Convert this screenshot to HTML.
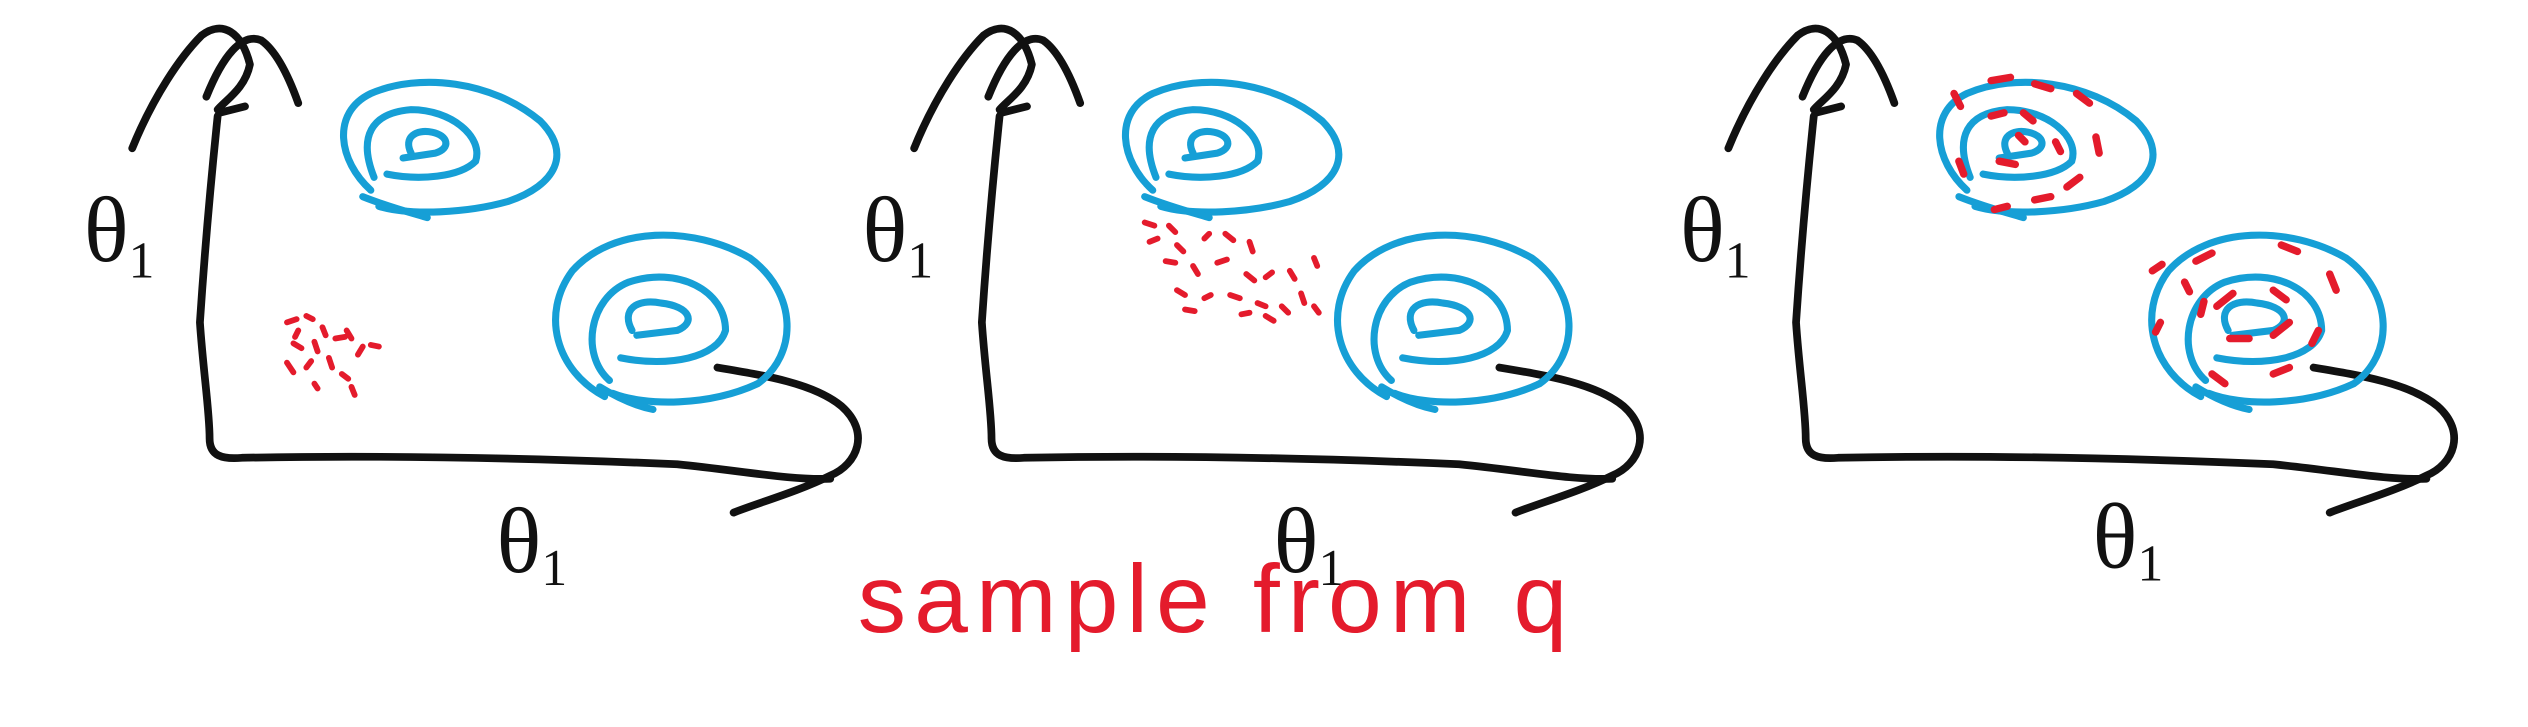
<!DOCTYPE html>
<html><head><meta charset="utf-8"><style>
html,body{margin:0;padding:0;background:#fff;width:2528px;height:727px;overflow:hidden}
svg{display:block}
.k{fill:none;stroke:#111;stroke-width:4.8;stroke-linecap:round;stroke-linejoin:round}
.b{fill:none;stroke:#169fd6;stroke-width:4.4;stroke-linecap:round}
.r{fill:none;stroke:#e41b2c;stroke-width:3.6;stroke-linecap:round}
.t{font-family:"Liberation Serif",serif;fill:#111}
</style></head><body>
<svg width="2528" height="727" viewBox="0 0 1568 451" preserveAspectRatio="none">
<defs>
<g id="axes">
<path class="k" d="M82,92 C95,60 112,35 125,22 C138,12 150,20 155,40 C152,55 140,62 135,68"/>
<path class="k" d="M128,60 C138,35 150,20 162,25 C172,32 180,50 185,64"/>
<path class="k" d="M136,70 L152,66"/>
<path class="k" d="M135,72 C130,120 126,170 124,200 C126,230 130,255 130,272 C130,283 138,285 150,284 C250,282 350,285 420,288 C460,292 490,298 515,297"/>
<path class="k" d="M445,228 C475,233 505,238 522,252 C540,268 532,288 515,295 C495,305 470,312 455,318"/>
</g>
<g id="spiral1">
<path class="b" d="M230,118 C210,100 205,70 230,58 C260,45 305,50 335,75 C355,95 345,115 315,125 C290,132 255,134 235,128"/>
<path class="b" d="M232,110 C222,85 230,70 255,68 C280,68 300,85 295,100 C285,110 260,112 240,108"/>
<path class="b" d="M255,95 C250,85 258,80 268,82 C278,84 280,92 270,95 L250,98"/>
<path class="b" d="M225,122 C240,128 255,132 265,135"/>
</g>
<g id="spiral2">
<path class="b" d="M375,246 C345,230 335,195 355,168 C380,140 430,140 465,160 C495,182 495,220 470,238 C440,252 400,252 380,244"/>
<path class="b" d="M378,236 C360,220 365,185 390,175 C420,165 450,180 450,205 C445,222 415,228 385,222"/>
<path class="b" d="M392,205 C385,192 395,185 410,188 C428,190 432,200 420,205 L395,208"/>
<path class="b" d="M372,240 C385,248 395,252 405,254"/>
</g>
</defs>
<g>
<use href="#axes"/><use href="#spiral1"/><use href="#spiral2"/>
<g class="r">
<path d="M178,200 l6,-2 M190,196 l4,2 M200,203 l2,5 M182,213 l5,3 M195,212 l2,6 M208,210 l6,-1 M215,205 l3,5 M178,225 l4,6 M190,228 l3,-4 M204,222 l2,6 M212,232 l4,3 M222,220 l3,-5 M230,214 l5,1 M195,238 l2,3 M218,240 l2,5 M185,205 l-2,4"/>
</g>
<text class="t" x="52" y="162" font-size="58">θ<tspan font-size="32" dy="10">1</tspan></text>
<text class="t" x="308" y="355" font-size="58">θ<tspan font-size="32" dy="8">1</tspan></text>
</g>
<g transform="translate(485,0)">
<use href="#axes"/><use href="#spiral1"/><use href="#spiral2"/>
<g class="r">
<path d="M225,138 l6,2 M240,140 l4,4 M228,150 l5,-2 M245,152 l4,4 M262,148 l3,-3 M275,145 l5,4 M290,150 l2,6 M238,162 l6,1 M255,165 l3,5 M270,163 l6,-2 M288,170 l5,4 M300,172 l4,-3 M315,168 l3,5 M330,160 l2,5 M245,180 l5,3 M262,185 l4,-2 M278,183 l6,2 M295,188 l5,2 M310,190 l4,4 M322,182 l2,6 M250,192 l6,1 M285,195 l5,-1 M300,196 l5,3 M330,190 l3,4"/>
</g>
<text class="t" x="50" y="162" font-size="58">θ<tspan font-size="32" dy="10">1</tspan></text>
<text class="t" x="305" y="355" font-size="58">θ<tspan font-size="32" dy="8">1</tspan></text>
</g>
<g transform="translate(990,0)">
<use href="#axes"/><use href="#spiral1"/><use href="#spiral2"/>
<g class="r" style="stroke-width:4.6">
<path d="M222,58 l4,8 M245,50 l12,-2 M272,52 l10,3 M298,58 l8,6 M310,85 l2,10 M300,110 l-8,6 M282,122 l-10,2 M255,128 l-8,2 M228,108 l-3,-8 M245,72 l8,-2 M265,70 l6,5 M285,88 l3,6 M250,100 l10,2 M262,84 l4,4"/>
<path d="M345,168 l6,-4 M372,162 l10,-5 M425,152 l10,4 M455,170 l4,10 M448,205 l-4,8 M430,228 l-10,4 M390,238 l-8,-6 M350,200 l-3,6 M395,182 l-10,8 M420,180 l8,6 M430,200 l-10,8 M405,210 l-12,0 M375,195 l2,-8 M365,175 l3,6"/>
</g>
<text class="t" x="52" y="162" font-size="58">θ<tspan font-size="32" dy="10">1</tspan></text>
<text class="t" x="308" y="352" font-size="58">θ<tspan font-size="32" dy="8">1</tspan></text>
</g>
<text x="532" y="392" font-family="Liberation Sans, sans-serif" font-size="60" fill="#e41b2c" letter-spacing="5">sample from  q</text>
</svg>
</body></html>
